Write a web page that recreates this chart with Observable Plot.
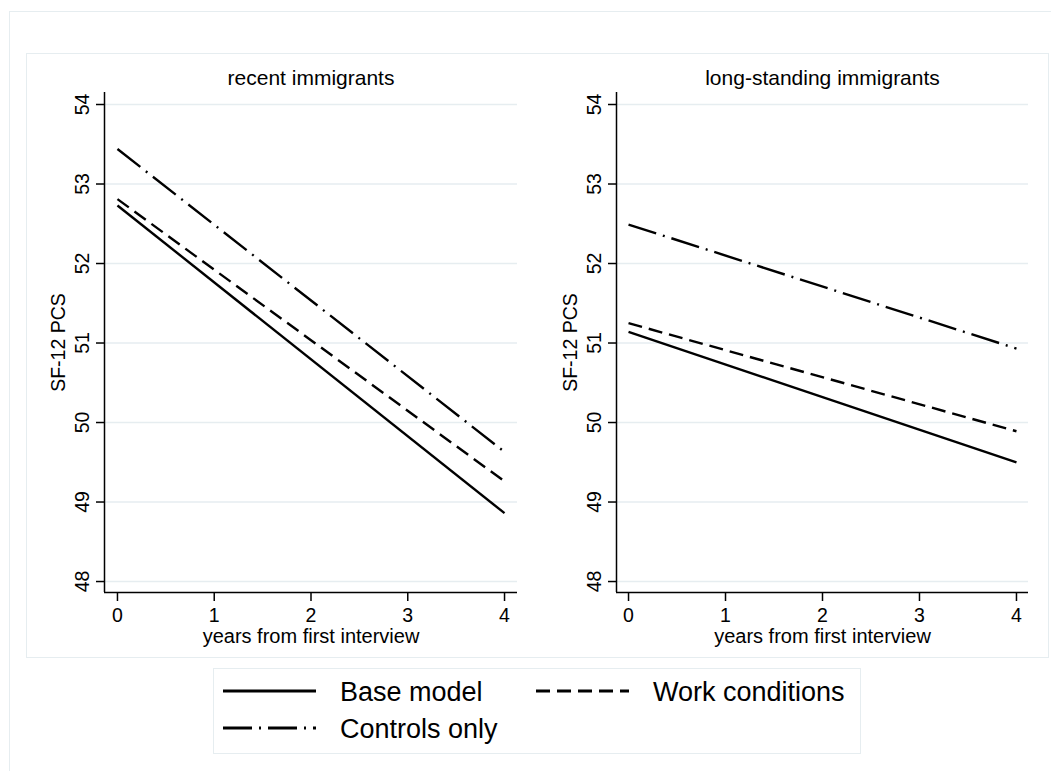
<!DOCTYPE html>
<html>
<head>
<meta charset="utf-8">
<script src="https://cdn.jsdelivr.net/npm/d3@7"></script>
<script src="https://cdn.jsdelivr.net/npm/@observablehq/plot@0.6"></script>
<style>
  html, body { margin: 0; padding: 0; background: #fff; }
  #chart { position: relative; width: 1051px; height: 771px; overflow: hidden; background: #fff;
           font-family: "Liberation Sans", Arial, Helvetica, sans-serif; color: #000; }
  .box { position: absolute; box-sizing: border-box; border: 1.5px solid #e6edf0; }
  .panel { position: absolute; }
  #legend { position: absolute; }
</style>
</head>
<body>
<div id="chart"></div>
<script>
// Predicted SF-12 physical component score by years since first interview
const years = [0, 4];
const models = ["Base model", "Work conditions", "Controls only"];

const recentBase = [52.73, 48.86];
const recentWork = [52.81, 49.26];
const recentControls = [53.44, 49.63];

const longBase = [51.14, 49.50];
const longWork = [51.25, 49.89];
const longControls = [52.49, 50.93];

const panelTitles = ["recent immigrants", "long-standing immigrants"];
const xTicks = [0, 1, 2, 3, 4];
const yTicks = [48, 49, 50, 51, 52, 53, 54];
const xLabel = "years from first interview";
const yLabel = "SF-12 PCS";

// line styles per model (solid, dashed, dash-dot)
const dashes = {
  "Base model": null,
  "Work conditions": "14 7",
  "Controls only": "29 7 2 7"
};

function rowsFor(series) {
  const rows = [];
  models.forEach((m, i) => years.forEach((yr, j) => rows.push({model: m, year: yr, score: series[i][j]})));
  return rows;
}

const FONT = "\"Liberation Sans\", Arial, Helvetica, sans-serif";
const GRID = "#e6edf0";
const chart = document.getElementById("chart");

// outer graph region and inner plot region borders
const outer = document.createElement("div");
outer.className = "box";
Object.assign(outer.style, {left: "9px", top: "11px", width: "1060px", height: "780px"});
chart.appendChild(outer);
const inner = document.createElement("div");
inner.className = "box";
Object.assign(inner.style, {left: "26px", top: "53px", width: "1023px", height: "605px"});
chart.appendChild(inner);

function panel(title, series, opts) {
  const rows = rowsFor(series);
  const xDom = opts.xDomain, yDom = [47.862, 54.151];
  const marks = [
    Plot.gridY(yTicks, {stroke: GRID, strokeOpacity: 1, strokeWidth: 1.5}),
    Plot.ruleX([xDom[0]], {stroke: "#000", strokeWidth: 1.5}),
    Plot.ruleY([yDom[0]], {stroke: "#000", strokeWidth: 1.5}),
    Plot.axisY({ticks: yTicks, tickSize: 8, tickFormat: () => "", label: null, strokeWidth: 1.5}),
    Plot.text(yTicks, {y: d => d, text: d => String(d), frameAnchor: "left", textAnchor: "middle",
                       lineAnchor: "middle", dx: -22, rotate: -90, fontSize: 19.5}),
    Plot.axisX({ticks: xTicks, tickSize: 9, tickPadding: 7, fontSize: 19.5, label: null,
                tickFormat: d => String(d), strokeWidth: 1.5}),
    Plot.text([yLabel], {frameAnchor: "left", textAnchor: "middle", lineAnchor: "middle",
                         dx: -46, rotate: -90, fontSize: 19.5}),
    Plot.text([xLabel], {frameAnchor: "bottom", lineAnchor: "middle", dy: 44, fontSize: 20}),
    Plot.text([title], {frameAnchor: "top", lineAnchor: "middle", dy: -14, fontSize: 21})
  ];
  models.forEach(m => {
    marks.push(Plot.line(rows.filter(r => r.model === m), {
      x: "year", y: "score", stroke: "#000", strokeWidth: 2.4,
      strokeDasharray: dashes[m], strokeLinecap: "butt"
    }));
  });
  const svg = Plot.plot({
    width: opts.width, height: 604,
    marginLeft: opts.marginLeft, marginRight: opts.marginRight, marginTop: 39, marginBottom: 65,
    x: {domain: xDom},
    y: {domain: yDom},
    style: {fontFamily: FONT, fontSize: "19px", background: "transparent", color: "#000", overflow: "visible"},
    marks
  });
  svg.classList.add("panel");
  svg.style.left = opts.left + "px";
  svg.style.top = "53px";
  chart.appendChild(svg);
}

panel(panelTitles[0], [recentBase, recentWork, recentControls],
      {left: 26, width: 534, marginLeft: 78, marginRight: 43, xDomain: [-0.134, 4.134]});
panel(panelTitles[1], [longBase, longWork, longControls],
      {left: 560, width: 488, marginLeft: 56, marginRight: 20, xDomain: [-0.124, 4.124]});

// legend
const legend = document.createElement("div");
legend.id = "legend";
Object.assign(legend.style, {left: "213px", top: "668px", width: "648px", height: "86px",
  boxSizing: "border-box", border: "1.5px solid " + GRID, background: "#fff"});
const ns = "http://www.w3.org/2000/svg";
const lsvg = document.createElementNS(ns, "svg");
lsvg.setAttribute("width", 648); lsvg.setAttribute("height", 86);
lsvg.style.position = "absolute"; lsvg.style.left = "-1.5px"; lsvg.style.top = "-1.5px";
const slots = [
  {model: "Base model", x: 10, y: 23},
  {model: "Work conditions", x: 323, y: 23},
  {model: "Controls only", x: 10, y: 60}
];
slots.forEach(s => {
  const ln = document.createElementNS(ns, "line");
  ln.setAttribute("x1", s.x); ln.setAttribute("x2", s.x + 93);
  ln.setAttribute("y1", s.y); ln.setAttribute("y2", s.y);
  ln.setAttribute("stroke", "#000"); ln.setAttribute("stroke-width", 2.8);
  if (dashes[s.model]) ln.setAttribute("stroke-dasharray", dashes[s.model]);
  lsvg.appendChild(ln);
  const tx = document.createElementNS(ns, "text");
  tx.setAttribute("x", s.x + 117); tx.setAttribute("y", s.y + 9.5);
  tx.setAttribute("font-family", FONT); tx.setAttribute("font-size", 27);
  tx.textContent = s.model;
  lsvg.appendChild(tx);
});
legend.appendChild(lsvg);
chart.appendChild(legend);
</script>
</body>
</html>
